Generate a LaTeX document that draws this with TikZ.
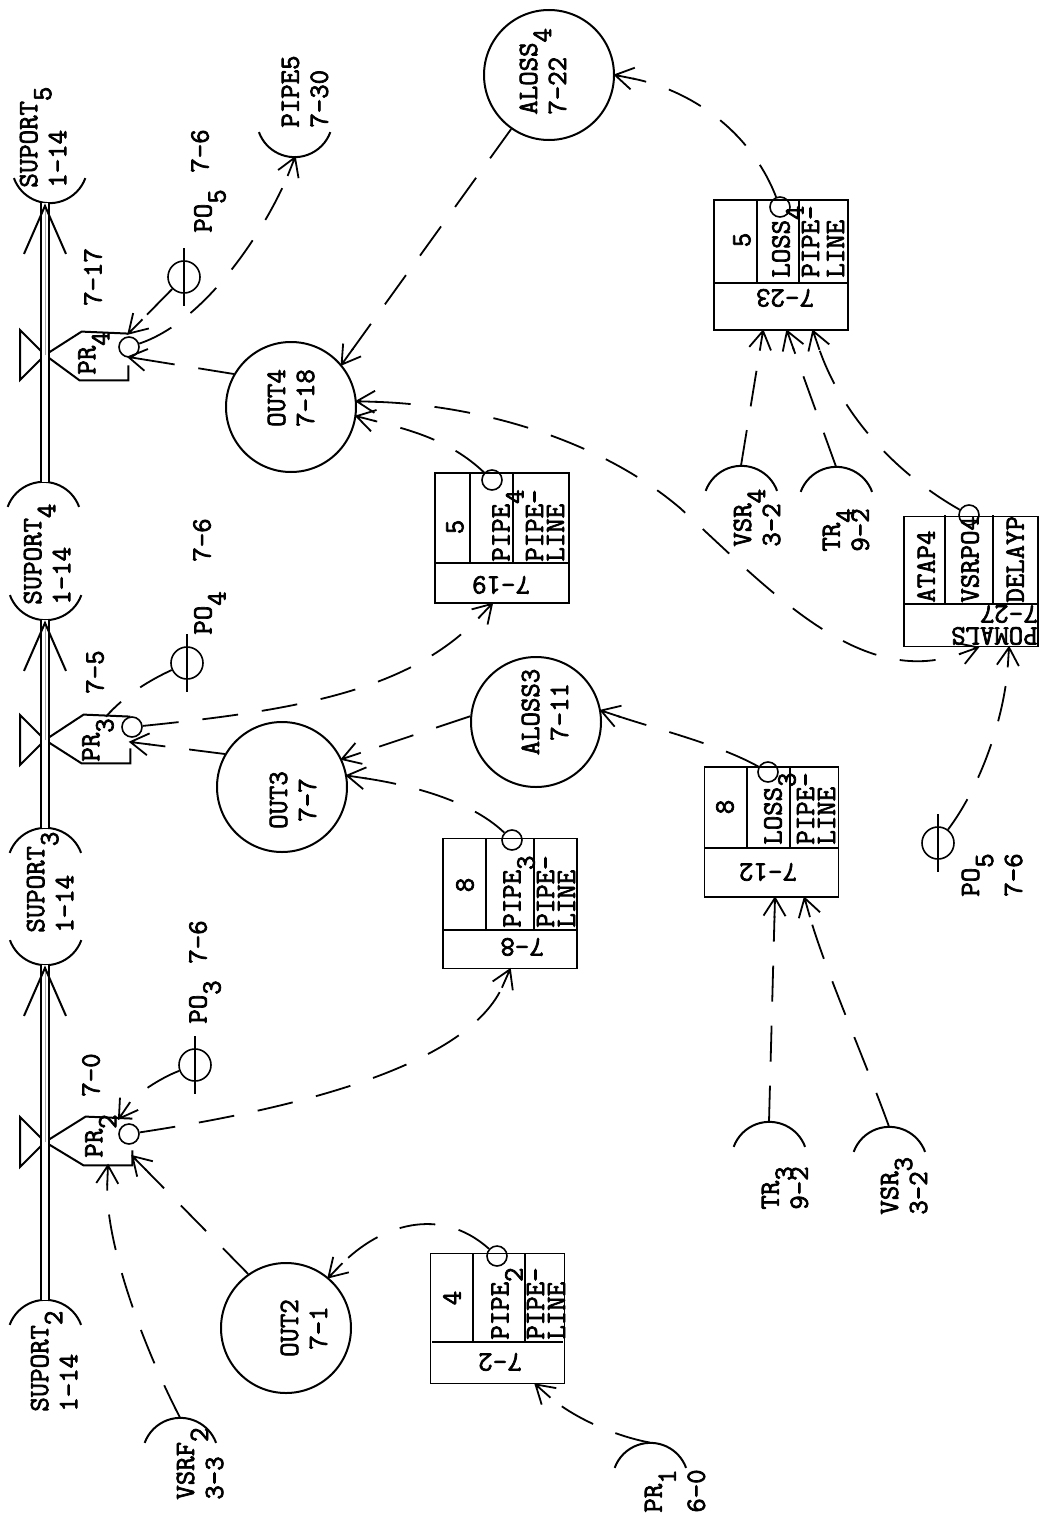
\documentclass[tikz,border=0pt]{standalone}
\usepackage{xcolor}
\usepackage{fontspec}
\usepackage{tikz}
\usetikzlibrary{arrows.meta,positioning,calc}
\newfontfamily\typew[FakeBold=2.5]{Latin Modern Mono}
\newcommand{\lowr}[1]{\smash{\raisebox{-7pt}{#1}}}
\pgfdeclarearrow{
  name=Prong,
  setup code={
    \pgfarrowssettipend{0pt}
    \pgfarrowssetlineend{-9pt}
    \pgfarrowssetbackend{-9pt}
    \pgfarrowshullpoint{0pt}{0pt}
    \pgfarrowshullpoint{-9pt}{5.5pt}
    \pgfarrowshullpoint{-9pt}{-5.5pt}
  },
  drawing code={
    \pgfsetlinewidth{.9pt}
    \pgfsetdash{}{0pt}
    \pgfpathmoveto{\pgfpoint{-9pt}{5.5pt}}
    \pgfpathlineto{\pgfpointorigin}
    \pgfpathlineto{\pgfpoint{-9pt}{-5.5pt}}
    \pgfpathmoveto{\pgfpointorigin}
    \pgfpathlineto{\pgfpoint{-10pt}{0pt}}
    \pgfusepathqstroke
  }
}

\begin{document}
\begin{tikzpicture}[
    x=0.5pt, y=0.5pt,
    lbl/.style={rotate=90, inner sep=0pt, align=center,
                font=\fontsize{14}{14.5}\selectfont\typew},
    lbll/.style={lbl, align=left, anchor=west},
    cellt/.style={lbl, align=left, anchor=west,
                font=\fontsize{14}{10.5}\selectfont\typew},
    flipt/.style={lbl, rotate=90},
    flipl/.style={flipt, align=left, anchor=west,
                font=\fontsize{14}{11}\selectfont\typew},
    big/.style={draw, circle, line width=1pt, minimum size=65pt, inner sep=0pt},
    halfc/.style={circle, minimum size=38pt, inner sep=0pt},
    smallc/.style={draw, circle, line width=.8pt, minimum size=10pt, inner sep=0pt},
    portc/.style={draw, circle, line width=.8pt, minimum size=16pt, inner sep=0pt},
    tabl/.style={draw, line width=.9pt, minimum width=67pt, minimum height=65pt, inner sep=0pt},
    prbox/.style={minimum width=24pt, minimum height=23pt, inner sep=0pt},
    conn/.style={dash pattern=on 18pt off 12pt, line width=.9pt, -Prong},
    connb/.style={conn, Prong-Prong},
    plain/.style={dash pattern=on 18pt off 12pt, line width=.9pt},
    pipe/.style={double, double distance=3.4pt, line width=1pt},
    flowtip/.style={line width=.01pt, -{Straight Barb[length=24pt,width=21pt,line width=1pt]}},
    solid1/.style={line width=1pt}
]
\useasboundingbox (0,0) rectangle (1040,-1520);

% half circles
\node[halfc] (sup2)  at (45,-1338) {};
\node[halfc] (sup3a) at (45,-866) {};
\node[halfc] (sup3b) at (46,-927) {};
\node[halfc] (sup4a) at (43,-520) {};
\node[halfc] (sup4b) at (46,-582) {};
\node[halfc] (sup5)  at (50,-165) {};
\node[halfc] (pipe5) at (295,-119) {};
\node[halfc] (vsrf2) at (180,-1456) {};
\node[halfc] (pr1)   at (650,-1481) {};
\node[halfc] (tr3)   at (769,-1160) {};
\node[halfc] (vsr3)  at (889,-1165) {};
\node[halfc] (vsr4)  at (741,-504) {};
\node[halfc] (tr4)   at (836,-505) {};
\foreach \n in {sup2,sup3a,sup4a,vsrf2,pr1,tr3,vsr3,vsr4,tr4}
    \draw[solid1] (\n.20) arc[start angle=20,end angle=160,radius=19pt];
\foreach \n in {sup3b,sup4b,sup5,pipe5}
    \draw[solid1] (\n.200) arc[start angle=200,end angle=340,radius=19pt];

\node[lbll] (sup2t)  at (54,-1412) {SUPORT\lowr{2}\\1-14};
\node[lbll] (sup3t)  at (50,-933)  {SUPORT\lowr{3}\\1-14};
\node[lbll] (sup4t)  at (47,-605)  {SUPORT\lowr{4}\\1-14};
\node[lbll] (sup5t)  at (43,-188)  {SUPORT\lowr{5}\\1-14};
\node[lbll] (pipe5t) at (305,-128) {PIPE5\\7-30};
\node[lbll] (vsrf2t) at (200,-1500) {VSRF\lowr{2}\\3-3};
\node[lbll] (pr1t)   at (675,-1513) {PR\lowr{1}\\[7pt]6-0};
\node[lbll] (tr3t)   at (785,-1210) {TR\lowr{3}\\9-2};
\node[lbll] (vsr3t)  at (904,-1215) {VSR\lowr{3}\\3-2};
\node[lbll] (vsr4t)  at (757,-547) {VSR\lowr{4}\\3-2};
\node[lbll] (tr4t)   at (846,-552) {TR\lowr{4}\\9-2};

% big circles
\node[big] (out2)   at (286,-1328) {};
\node[big] (out3)   at (282,-787) {};
\node[big] (out4)   at (291,-407) {};
\node[big] (aloss3) at (536,-722) {};
\node[big] (aloss4) at (549,-75) {};
\node[lbl] (out2t)  at (304,-1328) {OUT2\\7-1};
\node[lbl] (out3t)  at (293,-800) {OUT3\\7-7};
\node[lbl] (out4t)  at (291,-398) {OUT4\\7-18};
\node[lbl] (aloss3t) at (545,-712) {ALOSS3\\7-11};
\node[lbll] (aloss4t) at (543,-115) {ALOSS\lowr{4}\\7-22};

% tanks and valves
\coordinate (vlv2) at (45,-1142);
\coordinate (vlv3) at (45,-740);
\coordinate (vlv4) at (45,-355);
\node[prbox] (pr2) at (108,-1142) {};
\node[prbox] (pr3) at (106,-740) {};
\node[prbox] (pr4) at (104,-357) {};
\foreach \n in {2,3,4}{
    \draw[solid1] (vlv\n) -- ++(-25,25) -- ++(0,-50) -- cycle;
    \draw[solid1] (vlv\n) -- ($(pr\n.north west)+(2,2)$) -- (pr\n.north east);
    \draw[solid1] (vlv\n) -- (pr\n.south west) -- (pr\n.south east) -- ++(0,15);
}
\node[smallc] (pr2c) at (129,-1134) {};
\node[smallc] (pr3c) at (132,-727) {};
\node[smallc] (pr4c) at (129,-347) {};
\node[lbll] (pr2t) at (94,-1158) {PR\lowr{2}};
\node[lbll] (pr3t) at (91,-762) {PR\lowr{3}};
\node[lbll] (pr4t) at (87,-375) {PR\lowr{4}};
\node[lbl] (pr2n) at (91,-1075) {7-0};
\node[lbl] (pr3n) at (95,-672) {7-5};
\node[lbl] (pr4n) at (93,-277) {7-17};

% pipeline
\draw[pipe] (vlv2 |- sup2.north) -- (vlv2) -- (vlv2 |- sup3b.south);
\draw[pipe] (vlv3 |- sup3a.north) -- (vlv3) -- (vlv3 |- sup4b.south);
\draw[pipe] (vlv4 |- sup4a.north) -- (vlv4) -- (vlv4 |- sup5.south);
\draw[flowtip] (vlv2) -- (vlv2 |- sup3b.south);
\draw[flowtip] (vlv3) -- (vlv3 |- sup4b.south);
\draw[flowtip] (vlv4) -- (vlv4 |- sup5.south);

% pressure points
\node[portc] (po3) at (195,-1065) {};
\node[portc] (po4) at (187,-663) {};
\node[portc] (po5a) at (184,-277) {};
\node[portc] (po5b) at (938,-843) {};
\foreach \n in {po3,po4,po5a,po5b}
    \draw[solid1] ($(\n)+(0,29)$) -- ($(\n)+(0,-29)$);
\node[lbll] (po3t) at (198,-1024) {PO\lowr{3}};
\node[lbl]  (po3n) at (198,-942) {7-6};
\node[lbll] (po4t) at (203,-635) {PO\lowr{4}};
\node[lbl]  (po4n) at (202,-540) {7-6};
\node[lbll] (po5at) at (203,-233) {PO\lowr{5}};
\node[lbl]  (po5an) at (200,-151) {7-6};
\node[lbll] (po5bt) at (992,-897) {PO\lowr{5}\\[7pt]7-6};

% tables
\node[tabl] (b72)  at (497.5,-1318.5) {};
\node[tabl] (b78)  at (510,-903.5) {};
\node[tabl] (b719) at (502,-538) {};
\node[tabl] (b712) at (771.5,-832) {};
\node[tabl] (b723) at (781,-265) {};
\node[tabl] (b727) at (971,-581.5) {};
\foreach \xa/\xb/\xc/\xd/\ya/\yb in {432/473/525/563/1254/1342, 444/486/534/576/839/930,
        436/470/513/568/473/563, 705/747/790/838/767/848, 715/757/799/847/200/283, 903/945/993/1039/515/604}
    \draw[line width=.8pt] (\xa,-\yb) -- (\xd,-\yb) (\xb,-\ya) -- (\xb,-\yb) (\xc,-\ya) -- (\xc,-\yb);

\node[lbl] at (452,-1298) {4};
\node[lbll] (b72p) at (500,-1340) {PIPE\lowr{2}};
\node[cellt] (b72l) at (546,-1340) {PIPE-\\LINE};
\node[flipt] (b72n) at (500,-1362) {7-2};

\node[lbl] at (465,-885) {8};
\node[lbll] (b78p) at (512,-928) {PIPE\lowr{3}};
\node[cellt] (b78l) at (556,-928) {PIPE-\\LINE};
\node[flipt] (b78n) at (522,-947) {7-8};

\node[lbl] at (455,-527) {5};
\node[lbll] (b719p) at (501,-562) {PIPE\lowr{4}};
\node[cellt] (b719l) at (545,-562) {PIPE-\\LINE};
\node[flipt] (b719n) at (501,-585) {7-19};

\node[lbl] at (725,-807) {8};
\node[lbll] (b712p) at (773,-845) {LOSS\lowr{3}};
\node[cellt] (b712l) at (816,-845) {PIPE-\\LINE};
\node[flipt] (b712n) at (768,-872) {7-12};

\node[lbl] at (742,-240) {5};
\node[lbll] (b723p) at (781,-278) {LOSS\lowr{4}};
\node[cellt] (b723l) at (823,-278) {PIPE-\\[2pt]LINE};
\node[flipt] (b723n) at (785,-298) {7-23};

\node[lbll] (b727a) at (926,-603) {ATAP4};
\node[lbll] (b727v) at (970,-603) {VSRPO4};
\node[lbll] (b727d) at (1015,-603) {DELAYP};
\node[flipl] (b727n) at (1038,-625) {POMALS\\7-27};

\node[smallc] (b72c)  at (497,-1256) {};
\node[smallc] (b78c)  at (512,-840) {};
\node[smallc] (b719c) at (492,-480) {};
\node[smallc] (b712c) at (768,-772) {};
\node[smallc] (b723c) at (780,-207) {};
\node[smallc] (b727c) at (969,-515) {};

% connectors
\coordinate (midbend) at (680,-508);
\draw[conn] (vsrf2.north) .. controls (140,-1340) and (105,-1240) .. (pr2.south);
\draw[conn] (po3) .. controls (160,-1078) and (135,-1095) .. (pr2.65);
\draw[conn] (pr2c) .. controls (320,-1105) and (470,-1060) .. (b78.south);
\draw[conn] (out2.125) -- (pr2.-30);
\draw[conn] (b72c) .. controls (440,-1205) and (380,-1225) .. (out2.50);
\draw[conn] (pr1.north) .. controls (610,-1435) and (570,-1415) .. ($(b72.south)+(38,0)$);

\draw[plain] (po4) .. controls (150,-680) and (125,-695) .. (pr3.north);
\draw[conn] (out3.150) -- ($(pr3.east)+(0,-2)$);
\draw[conn] (pr3c) .. controls (300,-710) and (410,-690) .. ($(b719.south)+(-10,0)$);
\draw[conn] (aloss3.175) -- (out3.25);
\draw[conn] (b78c) .. controls (470,-800) and (410,-785) .. (out3.10);
\draw[conn] (b712c) .. controls (720,-745) and (660,-730) .. (aloss3.10);
\draw[conn] (tr3.north) -- ($(b712.south)+(3.5,0)$);
\draw[conn] (vsr3.north) .. controls (865,-1060) and (825,-970) .. ($(b712.south)+(33,0)$);
\draw[conn] (po5b) .. controls (985,-780) and (1005,-710) .. ($(b727.south)+(38,0)$);

\draw[conn] (po5a) -- (pr4.north east);
\draw[conn] (pr4c) .. controls (210,-320) and (270,-220) .. (pipe5.south);
\draw[conn] (out4.150) -- (pr4.east);
\draw[conn] (aloss4.-125) -- (out4.40);
\draw[conn] (b719c) .. controls (450,-440) and (410,-430) .. (out4.-8);
\draw[connb] (out4.5) .. controls (480,-405) and (600,-440) .. (midbend)
             .. controls (770,-590) and (860,-690) .. ($(b727.south)+(7,0)$);
\draw[conn] (b723c) .. controls (750,-130) and (690,-90) .. (aloss4.0);
\draw[conn] (vsr4.north) -- ($(b723.south)+(-18,0)$);
\draw[conn] (tr4.north) -- ($(b723.south)+(6,0)$);
\draw[conn] (b727c) .. controls (890,-470) and (840,-410) .. ($(b723.south)+(32,0)$);
\end{tikzpicture}
\end{document}
